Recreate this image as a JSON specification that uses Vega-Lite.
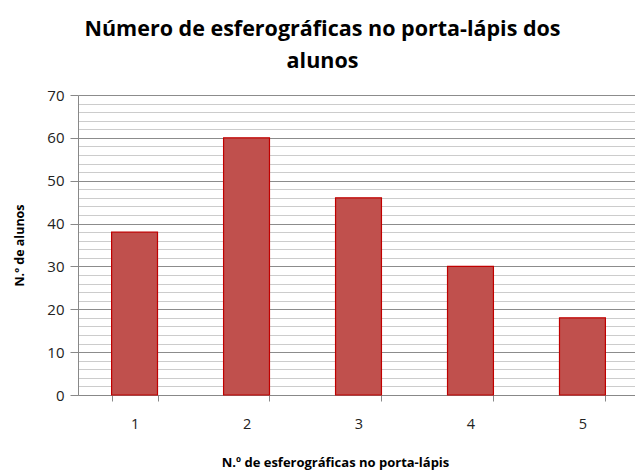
{
  "$schema": "https://vega.github.io/schema/vega-lite/v6.json",
  "autosize": "none",
  "width": 561,
  "height": 300,
  "padding": {"left": 78, "top": 95, "right": -4, "bottom": 75},
  "background": "white",
  "title": {
    "text": ["Número de esferográficas no porta-lápis dos", "alunos"],
    "font": "Open Sans",
    "fontSize": 21.5,
    "fontWeight": "bold",
    "color": "#000000",
    "anchor": "middle",
    "frame": "group",
    "dx": -36,
    "offset": 16,
    "lineHeight": 32
  },
  "data": {
    "values": [
      {"n": "1", "alunos": 38},
      {"n": "2", "alunos": 60},
      {"n": "3", "alunos": 46},
      {"n": "4", "alunos": 30},
      {"n": "5", "alunos": 18}
    ]
  },
  "mark": {"type": "bar", "color": "#C0504D", "stroke": "#C00000", "strokeWidth": 1.2},
  "encoding": {
    "x": {
      "field": "n",
      "type": "ordinal",
      "scale": {"paddingInner": 0.59, "paddingOuter": 0.3},
      "axis": {
        "title": "N.º de esferográficas  no porta-lápis",
        "titleFont": "Open Sans",
        "titleFontSize": 13,
        "titleFontWeight": "bold",
        "titleColor": "#000000",
        "titlePadding": 26,
        "titleX": 257,
        "labelAngle": 0,
        "labelFont": "Open Sans",
        "labelFontSize": 14.5,
        "labelColor": "#222222",
        "labelPadding": 16,
        "tickBand": "extent",
        "tickColor": "#888888",
        "tickSize": 6,
        "domainColor": "#888888",
        "grid": false
      }
    },
    "y": {
      "field": "alunos",
      "type": "quantitative",
      "scale": {"domain": [0, 70], "nice": false},
      "axis": {
        "title": "N.º de alunos",
        "titleFont": "Open Sans",
        "titleFontSize": 12.5,
        "titleFontWeight": "bold",
        "titleColor": "#000000",
        "titlePadding": 20,
        "values": [0,2,4,6,8,10,12,14,16,18,20,22,24,26,28,30,32,34,36,38,40,42,44,46,48,50,52,54,56,58,60,62,64,66,68,70],
        "labelExpr": "datum.value % 10 === 0 ? datum.label : ''",
        "labelFont": "Open Sans",
        "labelFontSize": 15,
        "labelColor": "#222222",
        "labelPadding": 6,
        "tickSize": 8,
        "tickColor": {"condition": {"test": "datum.value % 10 === 0", "value": "#888888"}, "value": "transparent"},
        "gridColor": {"condition": {"test": "datum.value % 10 === 0", "value": "#8c8c8c"}, "value": "#cccccc"},
        "gridWidth": 1.2,
        "grid": true,
        "domainColor": "#888888"
      }
    }
  },
  "config": {"view": {"stroke": null}}
}
